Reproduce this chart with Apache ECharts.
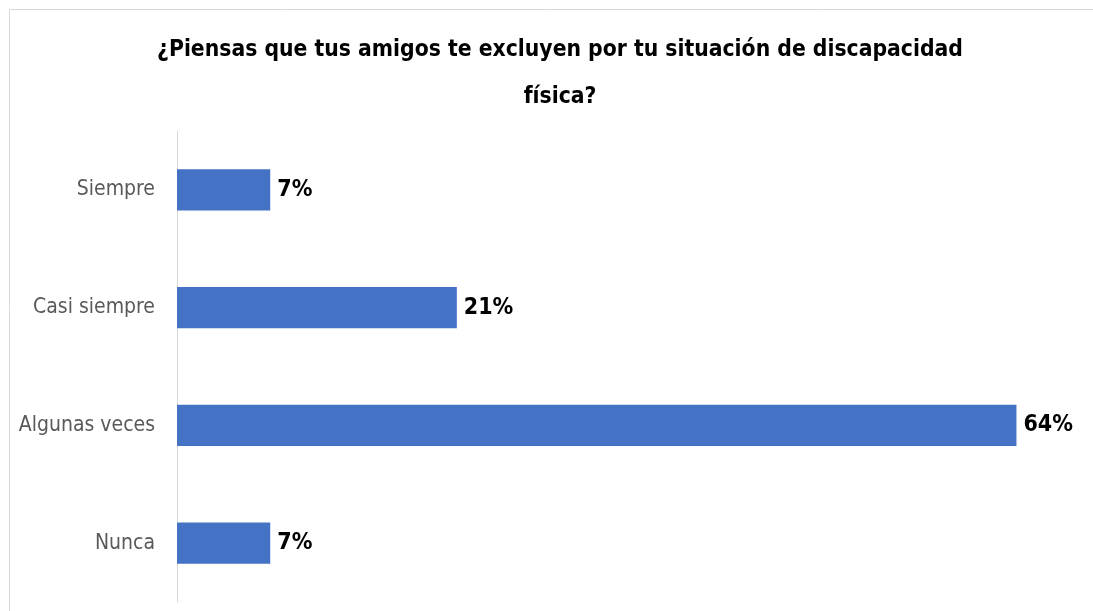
<!DOCTYPE html>
<html>
	<head>
		<meta charset="utf-8" />
		<script type="text/javascript" src="https://cdn.jsdelivr.net/npm/echarts@6/dist/echarts.min.js"></script>
		<title></title>
		<style>
			html, body { margin: 0; padding: 0; background: #fff; }
		</style>
	</head>
	<body>
		<div id="chartmain" style="width:1093px; height: 611px;"></div>
		<script type="text/javascript">
var categories = ['Siempre', 'Casi siempre', 'Algunas veces', 'Nunca'];
var values = [7.14, 21.43, 64.29, 7.14];
var fontCond = '"DejaVu Sans Condensed", sans-serif';

option = {
  backgroundColor: '#fff',
  animation: false,
  title: {
    text: '¿Piensas que tus amigos te excluyen por tu situación de discapacidad\nfísica?',
    left: 555,
    top: 22,
    textAlign: 'center',
    textStyle: {
      fontFamily: fontCond,
      fontWeight: 'bold',
      fontSize: 22.7,
      lineHeight: 47,
      color: '#000'
    }
  },
  graphic: [
    {
      type: 'rect',
      shape: { x: 9.5, y: 9.5, width: 1100, height: 620 },
      style: { fill: 'none', stroke: '#d9d9d9', lineWidth: 1 },
      silent: true
    }
  ],
  grid: {
    left: 177,
    right: 2,
    top: 131,
    bottom: 9
  },
  xAxis: {
    type: 'value',
    min: 0,
    max: 70,
    show: false
  },
  yAxis: {
    type: 'category',
    data: categories,
    inverse: true,
    axisLine: { show: true, lineStyle: { color: '#d9d9d9', width: 1 } },
    axisTick: { show: false },
    axisLabel: {
      margin: 22,
      fontFamily: fontCond,
      fontSize: 21,
      color: '#595959'
    }
  },
  series: [
    {
      type: 'bar',
      data: values,
      barCategoryGap: '65%',
      itemStyle: { color: '#4472c4' },
      label: {
        show: true,
        position: 'right',
        distance: 7,
        fontFamily: fontCond,
        fontWeight: 'bold',
        fontSize: 23,
        color: '#000',
        formatter: function (p) { return Math.round(p.value) + '%'; }
      }
    }
  ]
};
			var myChart = echarts.init(document.getElementById('chartmain'));
			myChart.setOption(option);

			window.addEventListener('resize', function () {
				myChart.resize()
			})
		</script>
	</body>
</html>
